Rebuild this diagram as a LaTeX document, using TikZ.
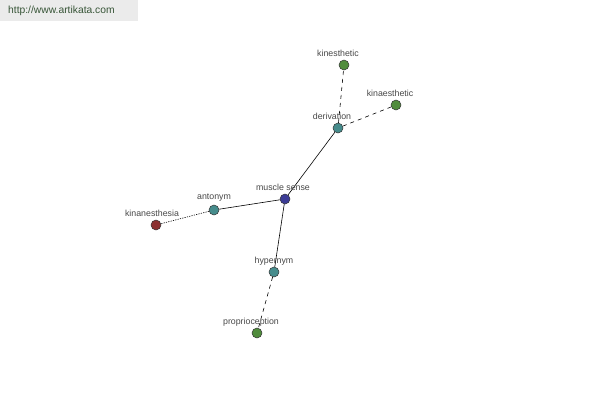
\documentclass[tikz,border=0pt]{standalone}
\usepackage{fontspec}
\setmainfont{Liberation Sans}
\begin{document}
\begin{tikzpicture}[x=1pt,y=-1pt,
  dot/.style={circle,draw=black!80,line width=0.5pt,minimum size=10pt,inner sep=0pt},
  lbl/.style={font=\fontsize{8.8}{9}\selectfont,text=black!72,inner sep=0pt},
  rel/.style={line width=0.6pt,black}]
\useasboundingbox (0,0) rectangle (600,400);
\fill[black!8] (0,0) rectangle (138,21);
\node[font=\fontsize{10.3}{11}\selectfont,text={rgb,255:red,55;green,85;blue,55},anchor=west,inner sep=0pt] (url) at (8,11) {http://www.artikata.com};
\definecolor{cblue}{RGB}{60,60,150}
\definecolor{cteal}{RGB}{70,140,140}
\definecolor{cgreen}{RGB}{80,140,60}
\definecolor{cred}{RGB}{140,50,50}
\node[dot,fill=cblue] (ms) at (285,199) {};
\node[dot,fill=cteal] (der) at (338,128) {};
\node[dot,fill=cgreen] (kin) at (344,65) {};
\node[dot,fill=cgreen] (kinae) at (396,105) {};
\node[dot,fill=cteal] (ant) at (214,210) {};
\node[dot,fill=cred] (kinan) at (156,225) {};
\node[dot,fill=cteal] (hyp) at (274,272) {};
\node[dot,fill=cgreen] (prop) at (257,333) {};
\draw[rel] (ms) -- (der);
\draw[rel] (ms) -- (ant);
\draw[rel] (ms) -- (hyp);
\draw[rel,dash pattern=on 4pt off 4pt] (der) -- (kin);
\draw[rel,dash pattern=on 4pt off 4pt] (der) -- (kinae);
\draw[rel,dash pattern=on 1.2pt off 1.2pt] (ant) -- (kinan);
\draw[rel,dash pattern=on 4pt off 4pt] (hyp) -- (prop);
\node[lbl] (lkin) at (338,53) {kinesthetic};
\node[lbl] (lkinae) at (390,93) {kinaesthetic};
\node[lbl] (lder) at (332,116) {derivation};
\node[lbl] (lms) at (283,187) {muscle sense};
\node[lbl] (lant) at (214,198) {antonym};
\node[lbl] (lkinan) at (152,213) {kinanesthesia};
\node[lbl] (lhyp) at (274,261) {hypernym};
\node[lbl] (lprop) at (251,322) {proprioception};
\end{tikzpicture}
\end{document}
